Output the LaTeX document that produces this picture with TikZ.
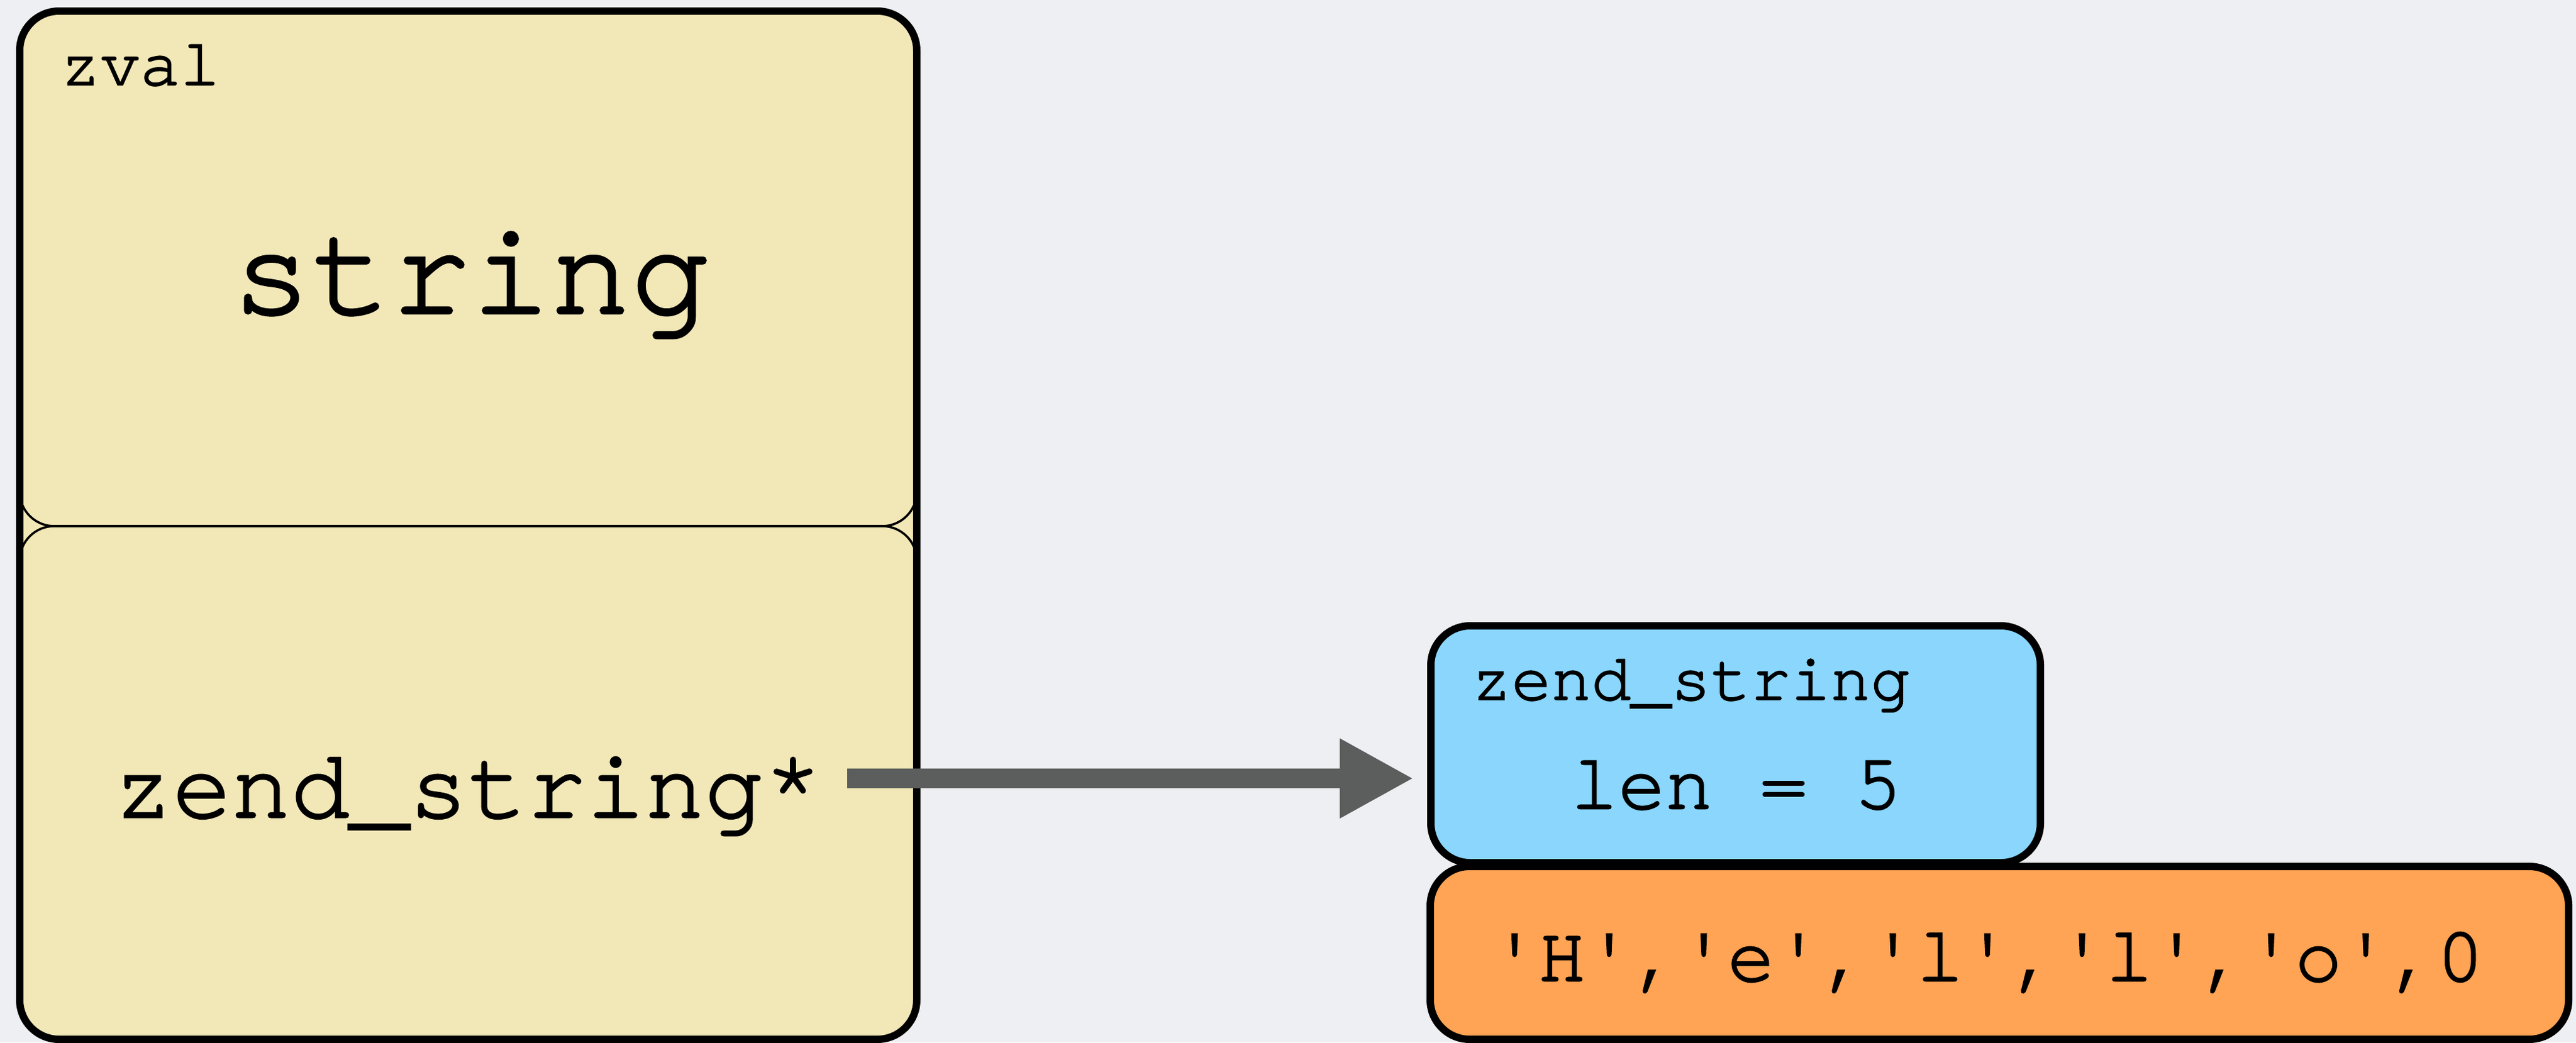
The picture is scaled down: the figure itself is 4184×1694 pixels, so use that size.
\documentclass[tikz,border=0pt]{standalone}
\usepackage{fontspec}
\newfontfamily\courfont[FakeBold=2]{TeX Gyre Cursor}
\usetikzlibrary{arrows.meta}
\definecolor{bgc}{HTML}{EEEFF2}
\definecolor{beige}{HTML}{F2E7B7}
\definecolor{skyb}{HTML}{8AD6FD}
\definecolor{orng}{HTML}{FFA354}
\definecolor{arrg}{HTML}{5B5E5C}
\tikzset{
  thickline/.style={draw=black, line width=3pt},
  thinline/.style={draw=black, line width=0.9pt},
  boxnode/.style={thickline, rectangle, rounded corners=16pt, inner sep=0pt},
  txt/.style={inner sep=0pt, outer sep=0pt, text=black},
  ptrarrow/.style={draw=arrg, line width=8pt, -{Triangle[length=30pt,width=30.25pt]}}
}
\begin{document}
\begin{tikzpicture}[x=0.25pt,y=-0.25pt]
\fill[bgc] (0,0) rectangle (4184,1694);
\useasboundingbox (0,0) rectangle (4184,1694);
% zval box
\fill[beige, rounded corners=16pt] (32,18) rectangle (1489,1689);
\draw[thinline, rounded corners=14pt] (32,18) rectangle (1489,855);
\draw[thinline, rounded corners=14pt] (32,855) rectangle (1489,1689);
\node[boxnode, minimum width=364.25pt, minimum height=417.75pt] (zval) at (760.5,853.5) {};
\node[txt, anchor=base west, font=\courfont\fontsize{27pt}{32pt}\selectfont] (zvallbl) at (98,138) {zval};
\node[txt, anchor=base, font=\courfont\fontsize{54pt}{64pt}\selectfont] (strlbl) at (765,509) {string};
\node[txt, anchor=base, font=\courfont\fontsize{40pt}{48pt}\selectfont] (ptr) at (760,1328) {zend\_string*};
% zend_string boxes
\node[boxnode, fill=skyb, minimum width=247.5pt, minimum height=96.25pt] (zstr) at (2819,1209.5) {};
\node[boxnode, fill=orng, minimum width=462.25pt, minimum height=70.25pt] (chars) at (3247.5,1548.5) {};
\node[txt, anchor=base west, font=\courfont\fontsize{27pt}{32pt}\selectfont] (zstrlbl) at (2390,1137) {zend\_string};
\node[txt, anchor=base, font=\courfont\fontsize{32pt}{38pt}\selectfont] (lenlbl) at (2820,1314) {len = 5};
\node[txt, anchor=base, font=\courfont\fontsize{32pt}{38pt}\selectfont] (charlbl) at (3228,1594) {'H','e','l','l','o',0};
% arrow
\coordinate (arrstart) at (1376,1265);
\draw[ptrarrow, shorten >=5.5pt] (arrstart) -- (arrstart -| zstr.west);
\end{tikzpicture}
\end{document}
